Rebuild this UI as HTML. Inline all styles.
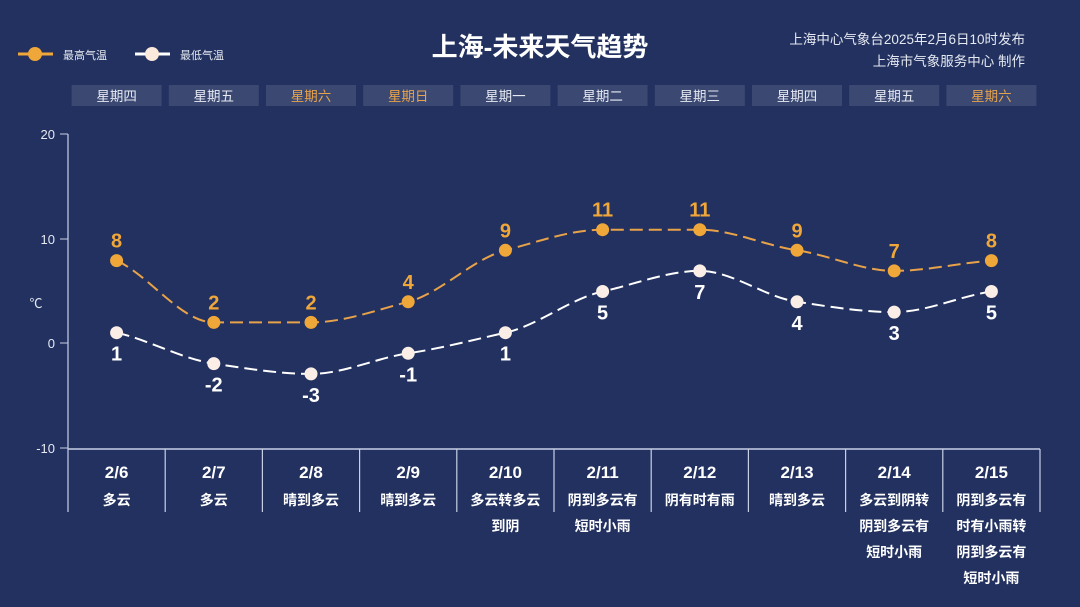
<!DOCTYPE html><html><head><meta charset="utf-8"><style>
body{margin:0;background:#22315f;}
svg{display:block;font-family:"Liberation Sans","Noto Sans CJK SC",sans-serif;}
</style></head><body>
<svg id="s" width="1080" height="607" xmlns="http://www.w3.org/2000/svg">
<rect width="1080" height="607" fill="#22315f"/>
<text x="540" y="56" text-anchor="middle" fill="#fff" font-size="26" font-weight="bold">上海-未来天气趋势</text>
<text x="1025" y="44" text-anchor="end" fill="#e6e9f2" font-size="13.5">上海中心气象台2025年2月6日10时发布</text>
<text x="1025" y="66" text-anchor="end" fill="#e6e9f2" font-size="13.5">上海市气象服务中心 制作</text>
<line x1="18" y1="54" x2="53" y2="54" stroke="#f0a73a" stroke-width="3"/><circle cx="35" cy="54" r="7" fill="#f0a73a"/>
<text x="63" y="59" fill="#e6e9f2" font-size="11">最高气温</text>
<line x1="135" y1="54" x2="170" y2="54" stroke="#fff" stroke-width="3"/><circle cx="152" cy="54" r="7" fill="#fbe9dc"/>
<text x="180" y="59" fill="#e6e9f2" font-size="11">最低气温</text>
<g id="g"></g>
</svg>
<script>
const g=document.getElementById('g');let h='';
const days=['星期四','星期五','星期六','星期日','星期一','星期二','星期三','星期四','星期五','星期六'];
const dates=['2/6','2/7','2/8','2/9','2/10','2/11','2/12','2/13','2/14','2/15'];
const wx=[['多云'],['多云'],['晴到多云'],['晴到多云'],['多云转多云','到阴'],['阴到多云有','短时小雨'],['阴有时有雨'],['晴到多云'],['多云到阴转','阴到多云有','短时小雨'],['阴到多云有','时有小雨转','阴到多云有','短时小雨']];
const hi=[8,2,2,4,9,11,11,9,7,8],lo=[1,-2,-3,-1,1,5,7,4,3,5];
const X=i=>116.6+97.2*i,Y=v=>343-10.3*v;
for(let i=0;i<10;i++){const c=X(i);const w=(i==2||i==3||i==9);
h+=`<rect x="${c-45}" y="85" width="90" height="21" fill="#3a4872"/><text x="${c}" y="101" text-anchor="middle" font-size="13.5" fill="${w?'#e8a24a':'#e6e9f2'}">${days[i]}</text>`;
h+=`<text x="${c}" y="478" text-anchor="middle" font-size="17" font-weight="bold" fill="#fff">${dates[i]}</text>`;
wx[i].forEach((t,k)=>h+=`<text x="${c}" y="${505+k*26}" text-anchor="middle" font-size="14" font-weight="bold" fill="#fff">${t}</text>`);
h+=`<line x1="${68+97.2*(i+1)}" y1="449" x2="${68+97.2*(i+1)}" y2="512" stroke="#c8d0e6" stroke-width="1.2"/>`;}
h+=`<line x1="68" y1="134" x2="68" y2="512" stroke="#c8d0e6" stroke-width="1.2"/><line x1="68" y1="449" x2="1040" y2="449" stroke="#c8d0e6" stroke-width="1.5"/>`;
[[20,134],[10,239],[0,343],[-10,448]].forEach(([v,y])=>{h+=`<line x1="60" y1="${y}" x2="68" y2="${y}" stroke="#c8d0e6"/><text x="55" y="${y+5}" text-anchor="end" font-size="13" fill="#e6e9f2">${v}</text>`});
h+=`<text x="36" y="308" text-anchor="middle" font-size="13" fill="#e6e9f2">℃</text>`;
function path(a){const n=a.length,ys=a.map(Y),d0=[];for(let i=0;i<n-1;i++)d0.push(ys[i+1]-ys[i]);
const m=[];for(let i=0;i<n;i++){if(i==0)m.push(d0[0]);else if(i==n-1)m.push(d0[n-2]);else m.push(d0[i-1]*d0[i]<=0?0:(d0[i-1]+d0[i])/2);}
let d=`M${X(0)},${ys[0]}`;const dx=97.2/3;
for(let i=0;i<n-1;i++){const s=0.7;d+=` C${X(i)+dx},${ys[i]+m[i]/3*s} ${X(i+1)-dx},${ys[i+1]-m[i+1]/3*s} ${X(i+1)},${ys[i+1]}`;}return d;}
h+=`<path d="${path(hi)}" fill="none" stroke="#e8a24a" stroke-width="2" stroke-dasharray="13,6"/>`;
h+=`<path d="${path(lo)}" fill="none" stroke="#fff" stroke-width="2" stroke-dasharray="13,6"/>`;
for(let i=0;i<10;i++){h+=`<circle cx="${X(i)}" cy="${Y(hi[i])}" r="6.5" fill="#f0a73a"/><text x="${X(i)}" y="${Y(hi[i])-13}" text-anchor="middle" font-size="20" font-weight="bold" fill="#f0a73a">${hi[i]}</text>`;
h+=`<circle cx="${X(i)}" cy="${Y(lo[i])}" r="6.5" fill="#fbeee6"/><text x="${X(i)}" y="${Y(lo[i])+28}" text-anchor="middle" font-size="20" font-weight="bold" fill="#fff">${lo[i]}</text>`;}
g.innerHTML=h;
</script>
</body></html>
